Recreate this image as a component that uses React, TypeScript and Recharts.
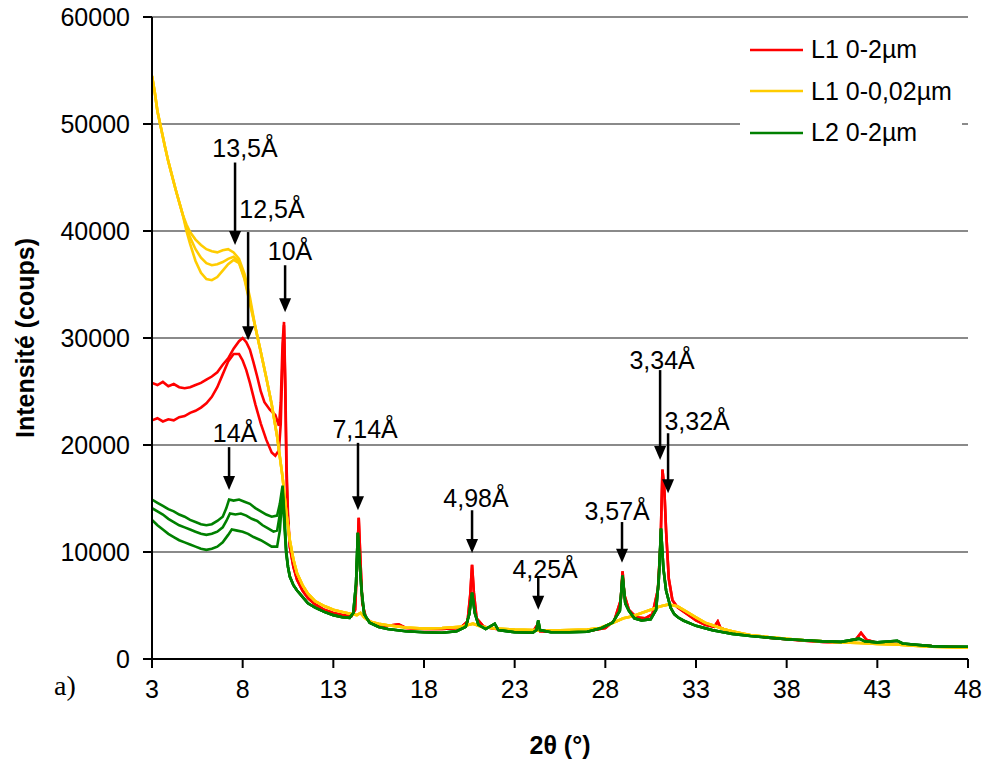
import React from "react";
import {
  LineChart,
  Line,
  XAxis,
  YAxis,
  CartesianGrid,
  ReferenceLine,
  ReferenceDot,
} from "recharts";

// 2θ ticks and intensity ticks
const xTicks = [3, 8, 13, 18, 23, 28, 33, 38, 43, 48];
const yTicks = [0, 10000, 20000, 30000, 40000, 50000, 60000];

// L1 0-2µm (two runs) — low angle part, then shared tail
const red1Head: [number, number][] = [
  [3.0, 25800], [3.3, 25600], [3.6, 25900], [3.9, 25500], [4.2, 25700], [4.5, 25400],
  [4.8, 25300], [5.1, 25400], [5.4, 25600], [5.7, 25800], [6.0, 26100], [6.3, 26400],
  [6.6, 26800], [6.9, 27500], [7.2, 28100], [7.5, 29000], [7.8, 29700], [8.0, 30000],
  [8.2, 29600], [8.4, 28900], [8.6, 27700], [8.8, 26400], [9.0, 25000], [9.2, 24000],
  [9.5, 23300], [9.8, 22800], [10.0, 21800], [10.1, 24000], [10.2, 29500], [10.28, 31500],
  [10.35, 26000], [10.42, 18000], [10.5, 13500],
];
const red2Head: [number, number][] = [
  [3.0, 22300], [3.3, 22500], [3.6, 22200], [3.9, 22400], [4.2, 22300], [4.5, 22600],
  [4.8, 22700], [5.1, 23000], [5.4, 23200], [5.7, 23500], [6.0, 23900], [6.3, 24500],
  [6.6, 25400], [6.9, 26600], [7.2, 27800], [7.5, 28500], [7.8, 28500], [8.0, 27900],
  [8.2, 27000], [8.4, 25800], [8.7, 23800], [9.0, 22000], [9.3, 20500], [9.6, 19300],
  [9.8, 19000], [10.0, 19500], [10.1, 22000], [10.2, 28000], [10.28, 31200], [10.35, 25000],
  [10.42, 17000], [10.5, 13000],
];
const redTail: [number, number][] = [
  [10.6, 10500], [10.8, 8600], [11.0, 7400], [11.3, 6400], [11.6, 5700], [12.0, 5100],
  [12.5, 4600], [13.0, 4300], [13.5, 4100], [14.0, 4000], [14.2, 4600], [14.3, 8500],
  [14.4, 13200], [14.5, 9000], [14.6, 5200], [14.8, 3800], [15.2, 3300], [16.0, 3100],
  [16.6, 3250], [17.0, 2900], [18.0, 2800], [19.0, 2800], [20.0, 2900], [20.4, 3500],
  [20.55, 6000], [20.65, 8800], [20.75, 6200], [20.9, 3800], [21.3, 3000], [22.0, 2800],
  [23.0, 2600], [24.0, 2550], [24.3, 3300], [24.4, 2600], [25.0, 2550], [26.0, 2550],
  [27.0, 2600], [28.0, 2900], [28.5, 3600], [28.85, 5500], [28.95, 8200], [29.05, 6000],
  [29.3, 4600], [29.7, 3900], [30.2, 3800], [30.6, 4200], [30.9, 6500], [31.05, 11000],
  [31.15, 17700], [31.25, 16000], [31.35, 12000], [31.5, 7500], [31.7, 5500], [32.0, 4800],
  [32.5, 4200], [33.0, 3600], [33.5, 3200], [34.0, 3000], [34.2, 3500], [34.35, 2900],
  [35.0, 2500], [36.0, 2200], [37.0, 2000], [38.0, 1850], [39.0, 1700], [40.0, 1600],
  [41.0, 1550], [41.8, 1800], [42.1, 2450], [42.4, 1800], [43.0, 1500], [44.0, 1400],
  [45.0, 1300], [46.0, 1200], [47.0, 1150], [48.0, 1100],
];

// L1 0-0,02µm (three runs)
const yellowStart: [number, number][] = [
  [3.0, 54500], [3.15, 53000], [3.3, 51200], [3.5, 49600], [3.7, 48000], [3.9, 46500],
  [4.1, 45200], [4.3, 43900], [4.5, 42700], [4.7, 41500],
];
const yellow1Mid: [number, number][] = [
  [4.9, 40600], [5.1, 39900], [5.4, 39200], [5.7, 38700], [6.0, 38300], [6.3, 38100],
  [6.6, 38000], [6.9, 38200], [7.2, 38300], [7.5, 38000], [7.8, 37400], [8.1, 36000],
  [8.4, 33800],
];
const yellow2Mid: [number, number][] = [
  [4.9, 40300], [5.1, 39400], [5.4, 38300], [5.7, 37500], [6.0, 37000], [6.3, 36800],
  [6.6, 36900], [6.9, 37100], [7.2, 37400], [7.5, 37600], [7.8, 37100], [8.1, 35600],
  [8.4, 33400],
];
const yellow3Mid: [number, number][] = [
  [4.9, 40000], [5.1, 38800], [5.4, 37200], [5.7, 36100], [6.0, 35500], [6.3, 35400],
  [6.6, 35700], [6.9, 36300], [7.2, 36900], [7.5, 37300], [7.8, 37000], [8.1, 35500],
  [8.4, 33200],
];
const yellowTail: [number, number][] = [
  [8.7, 31000], [9.0, 28700], [9.3, 26300], [9.6, 23800], [9.9, 20800], [10.2, 17000],
  [10.4, 13800], [10.6, 11100], [10.8, 9300], [11.0, 8000], [11.3, 6900], [11.6, 6100],
  [12.0, 5400], [12.5, 4950], [13.0, 4600], [13.5, 4400], [14.0, 4200], [14.3, 4100],
  [14.5, 4300], [14.7, 3900], [15.0, 3500], [15.5, 3300], [16.0, 3150], [17.0, 2950],
  [18.0, 2850], [19.0, 2900], [20.0, 3000], [20.7, 3300], [21.2, 3000], [22.0, 2850],
  [23.0, 2750], [24.0, 2700], [25.0, 2650], [26.0, 2700], [27.0, 2750], [27.7, 2900],
  [28.3, 3300], [29.0, 3800], [29.5, 4000], [30.0, 4300], [30.5, 4600], [31.0, 4900],
  [31.5, 5100], [32.0, 4900], [32.5, 4400], [33.0, 3900], [33.5, 3400], [34.0, 3100],
  [34.5, 2800], [35.0, 2600], [35.5, 2400], [36.0, 2250], [37.0, 2050], [38.0, 1900],
  [39.0, 1750], [40.0, 1650], [41.0, 1550], [42.0, 1500], [43.0, 1400], [44.0, 1350],
  [45.0, 1250], [46.0, 1150], [47.0, 1100], [48.0, 1050],
];

// L2 0-2µm (three runs)
const green1Head: [number, number][] = [
  [3.0, 14900], [3.3, 14600], [3.6, 14300], [3.9, 14000], [4.2, 13800], [4.5, 13500],
  [4.8, 13300], [5.1, 13000], [5.4, 12800], [5.7, 12600], [6.0, 12500], [6.3, 12600],
  [6.6, 12900], [6.9, 13300], [7.1, 14100], [7.25, 14900], [7.5, 14800], [7.8, 14900],
  [8.1, 14700], [8.4, 14500], [8.7, 14100], [9.0, 13800], [9.3, 13500], [9.6, 13300],
  [9.9, 13400], [10.05, 14500], [10.2, 16200], [10.3, 13500], [10.4, 10200],
];
const green2Head: [number, number][] = [
  [3.0, 14100], [3.3, 13800], [3.6, 13500], [3.9, 13100], [4.2, 12800], [4.5, 12500],
  [4.8, 12300], [5.1, 12100], [5.4, 11900], [5.7, 11700], [6.0, 11600], [6.3, 11700],
  [6.6, 11900], [6.9, 12300], [7.1, 12900], [7.3, 13600], [7.6, 13500], [7.9, 13600],
  [8.2, 13400], [8.5, 13100], [8.8, 12900], [9.1, 12500], [9.4, 12200], [9.7, 11900],
  [9.9, 12000], [10.05, 13500], [10.2, 15800], [10.3, 13000], [10.4, 10000],
];
const green3Head: [number, number][] = [
  [3.0, 13000], [3.3, 12500], [3.6, 12100], [3.9, 11700], [4.2, 11400], [4.5, 11100],
  [4.8, 10900], [5.1, 10700], [5.4, 10500], [5.7, 10300], [6.0, 10200], [6.3, 10300],
  [6.6, 10500], [6.9, 10900], [7.2, 11600], [7.4, 12100], [7.7, 12000], [8.0, 11900],
  [8.3, 11700], [8.6, 11400], [9.0, 11100], [9.3, 10800], [9.6, 10500], [9.9, 10500],
  [10.05, 12000], [10.2, 15500], [10.3, 12500], [10.4, 9800],
];
const greenTail: [number, number][] = [
  [10.5, 8600], [10.6, 7700], [10.8, 6900], [11.0, 6400], [11.3, 5800], [11.6, 5200],
  [12.0, 4800], [12.5, 4400], [13.0, 4100], [13.5, 3900], [13.9, 3850], [14.1, 4300],
  [14.25, 7000], [14.35, 11800], [14.45, 9000], [14.55, 6500], [14.7, 4200], [15.0, 3400],
  [15.5, 3000], [16.0, 2800], [17.0, 2600], [18.0, 2500], [19.0, 2450], [19.8, 2600],
  [20.3, 3000], [20.5, 4200], [20.65, 6200], [20.8, 4300], [21.0, 3200], [21.4, 2800],
  [21.9, 3300], [22.1, 2700], [23.0, 2500], [24.0, 2450], [24.2, 2700], [24.3, 3600],
  [24.4, 2700], [25.0, 2500], [26.0, 2500], [27.0, 2550], [27.8, 2900], [28.4, 3400],
  [28.8, 4500], [28.95, 7800], [29.1, 5200], [29.3, 4500], [29.6, 3800], [30.0, 3600],
  [30.5, 3700], [30.8, 4600], [30.95, 7500], [31.07, 12200], [31.2, 8500], [31.35, 6400],
  [31.6, 4800], [31.8, 4200], [32.0, 3900], [32.3, 3600], [33.0, 3100], [33.9, 2700],
  [34.5, 2500], [35.0, 2350], [36.0, 2150], [37.0, 2000], [38.0, 1850], [39.0, 1750],
  [40.0, 1650], [41.0, 1600], [42.0, 1900], [42.3, 1650], [43.0, 1550], [44.1, 1700],
  [44.4, 1450], [45.0, 1350], [46.0, 1200], [47.0, 1150], [48.0, 1150],
];

// arrows: 2θ position, start and tip intensity
const arrows = [
  { x: 7.58, top: 46400, tip: 38700 },
  { x: 8.3, top: 39900, tip: 29800 },
  { x: 10.34, top: 36800, tip: 32400 },
  { x: 7.25, top: 19800, tip: 15800 },
  { x: 14.36, top: 20200, tip: 13900 },
  { x: 20.65, top: 13900, tip: 9900 },
  { x: 24.3, top: 7600, tip: 4600 },
  { x: 28.92, top: 12800, tip: 9000 },
  { x: 31.02, top: 27000, tip: 18600 },
  { x: 31.46, top: 21100, tip: 15500 },
];
// peak labels: text, 2θ centre, intensity at baseline
const peakLabels = [
  { text: "13,5Å", x: 8.13, y: 46900 },
  { text: "12,5Å", x: 9.62, y: 41200 },
  { text: "10Å", x: 10.61, y: 37300 },
  { text: "14Å", x: 7.58, y: 20300 },
  { text: "7,14Å", x: 14.75, y: 20650 },
  { text: "4,98Å", x: 20.87, y: 14200 },
  { text: "4,25Å", x: 24.68, y: 7550 },
  { text: "3,57Å", x: 28.65, y: 13000 },
  { text: "3,34Å", x: 31.13, y: 27100 },
  { text: "3,32Å", x: 33.06, y: 21400 },
];

const legendItems = [
  { name: "L1 0-2µm", color: "#FF0000" },
  { name: "L1 0-0,02µm", color: "#FFCC00" },
  { name: "L2 0-2µm", color: "#008000" },
];

const FONT = "'Liberation Sans', Arial, sans-serif";

const toPts = (arr: [number, number][]) => arr.map(([x, y]) => ({ x, y }));

// drawn in this order: red under yellow under green
const series = [
  { key: "r1", color: "#FF0000", data: toPts([...red1Head, ...redTail]) },
  { key: "r2", color: "#FF0000", data: toPts([...red2Head, ...redTail]) },
  { key: "y1", color: "#FFCC00", data: toPts([...yellowStart, ...yellow1Mid, ...yellowTail]) },
  { key: "y2", color: "#FFCC00", data: toPts([...yellowStart, ...yellow2Mid, ...yellowTail]) },
  { key: "y3", color: "#FFCC00", data: toPts([...yellowStart, ...yellow3Mid, ...yellowTail]) },
  { key: "g1", color: "#008000", data: toPts([...green1Head, ...greenTail]) },
  { key: "g2", color: "#008000", data: toPts([...green2Head, ...greenTail]) },
  { key: "g3", color: "#008000", data: toPts([...green3Head, ...greenTail]) },
];

const ArrowShape = (props: any) => {
  const { x1, y1, x2, y2 } = props;
  const top = Math.min(y1, y2);
  const tip = Math.max(y1, y2);
  return (
    <g>
      <line x1={x1} y1={top} x2={x2} y2={tip - 10} stroke="#000" strokeWidth={2.5} />
      <polygon points={`${x2 - 6},${tip - 14} ${x2 + 6},${tip - 14} ${x2},${tip}`} fill="#000" />
    </g>
  );
};

const YTitle = (props: any) => {
  const { viewBox } = props;
  const cx = viewBox.x + 25;
  const cy = viewBox.y + viewBox.height / 2;
  return (
    <text
      x={cx}
      y={cy}
      transform={`rotate(-90, ${cx}, ${cy})`}
      textAnchor="middle"
      dominantBaseline="central"
      fontFamily={FONT}
      fontWeight="bold"
      fontSize={25}
      fill="#000"
    >
      Intensité (coups)
    </text>
  );
};

const XTitle = (props: any) => {
  const { viewBox } = props;
  return (
    <text
      x={viewBox.x + viewBox.width / 2}
      y={viewBox.y + 95}
      textAnchor="middle"
      fontFamily={FONT}
      fontWeight="bold"
      fontSize={25}
      fill="#000"
    >
      2θ (°)
    </text>
  );
};

export default function App() {
  return (
    <div style={{ position: "absolute", left: 0, top: 0, width: 985, height: 762, background: "#fff" }}>
      <LineChart width={985} height={762} margin={{ top: 17, right: 17, left: 0, bottom: 0 }}>
        <CartesianGrid vertical={false} stroke="#8a8a8a" strokeWidth={2} />
        <XAxis
          type="number"
          dataKey="x"
          domain={[3, 48]}
          ticks={xTicks}
          allowDataOverflow
          height={103}
          axisLine={{ stroke: "#000", strokeWidth: 2 }}
          tickLine={{ stroke: "#000", strokeWidth: 2 }}
          tickSize={9}
          tickMargin={12}
          tick={{ fill: "#000", fontSize: 25, fontFamily: FONT }}
          label={<XTitle />}
        />
        <YAxis
          type="number"
          domain={[0, 60000]}
          ticks={yTicks}
          width={152}
          axisLine={{ stroke: "#000", strokeWidth: 2 }}
          tickLine={{ stroke: "#000", strokeWidth: 2 }}
          tickSize={9}
          tickMargin={13}
          tick={{ fill: "#000", fontSize: 25, fontFamily: FONT }}
          label={<YTitle />}
        />
        {series.map((s) => (
          <Line
            key={s.key}
            data={s.data}
            dataKey="y"
            type="linear"
            stroke={s.color}
            strokeWidth={2.6}
            dot={false}
            activeDot={false}
            isAnimationActive={false}
          />
        ))}
        {arrows.map((a, i) => (
          <ReferenceLine
            key={"a" + i}
            segment={[{ x: a.x, y: a.top }, { x: a.x, y: a.tip }]}
            shape={ArrowShape}
          />
        ))}
        {peakLabels.map((p, i) => (
          <ReferenceDot
            key={"l" + i}
            x={p.x}
            y={p.y}
            r={1}
            shape={(props: any) => (
              <text
                x={props.cx}
                y={props.cy}
                textAnchor="middle"
                fontFamily={FONT}
                fontSize={25}
                fill="#000"
              >
                {p.text}
              </text>
            )}
          />
        ))}
      </LineChart>

      <div
        style={{
          position: "absolute",
          left: 740,
          top: 29,
          width: 222,
          background: "#fff",
          fontFamily: FONT,
          fontSize: 25,
          color: "#000",
        }}
      >
        {legendItems.map((it) => (
          <div key={it.name} style={{ display: "flex", alignItems: "center", height: 41.5 }}>
            <svg width={53} height={4} style={{ marginLeft: 10 }}>
              <line x1={0} y1={2} x2={53} y2={2} stroke={it.color} strokeWidth={2.5} />
            </svg>
            <span style={{ marginLeft: 8, whiteSpace: "nowrap" }}>{it.name}</span>
          </div>
        ))}
      </div>

      <div
        style={{
          position: "absolute",
          left: 54,
          top: 670,
          fontFamily: "'Liberation Serif', 'DejaVu Serif', serif",
          fontSize: 28,
          color: "#000",
        }}
      >
        a)
      </div>
    </div>
  );
}
